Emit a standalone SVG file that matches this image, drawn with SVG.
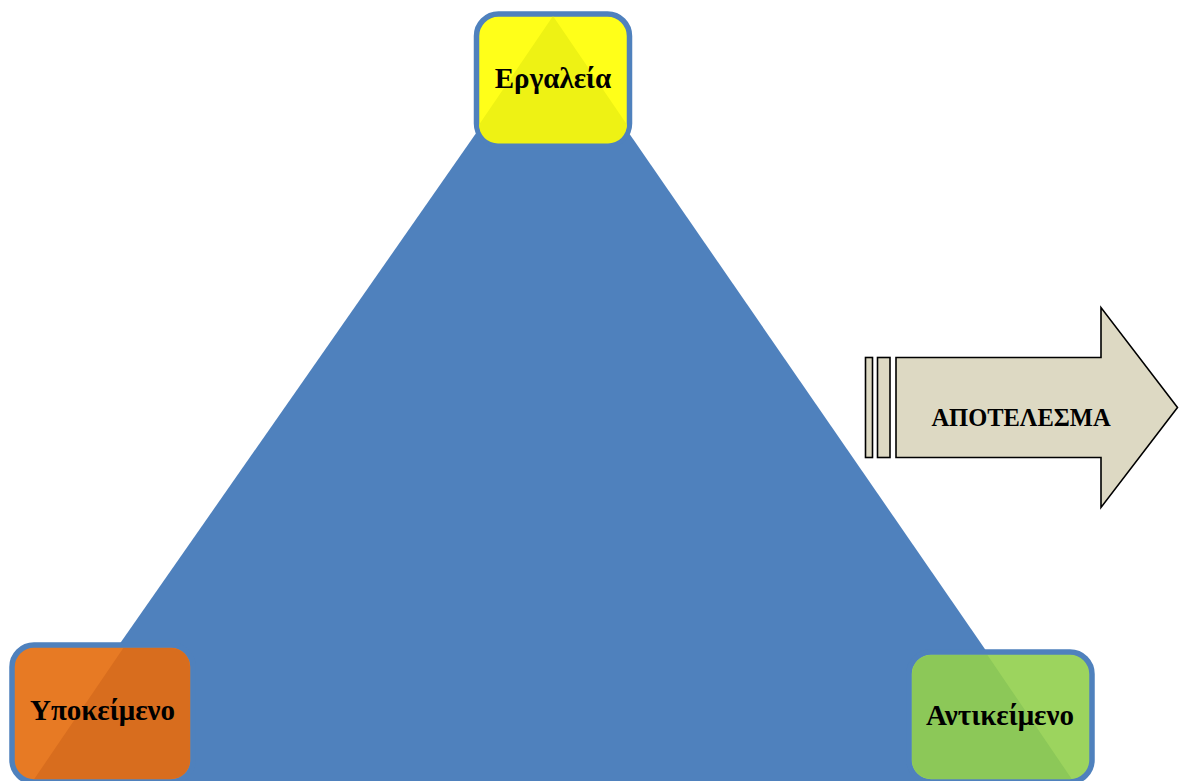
<svg xmlns="http://www.w3.org/2000/svg" width="1179" height="781" viewBox="0 0 1179 781">
  <style>
    .frame { stroke: #4F81BD; stroke-width: 5.5; }
    .label { font-family: "Liberation Serif", "Times New Roman", serif; font-weight: bold; fill: #000; text-anchor: middle; }
    .node-label { font-size: 29px; }
    .arrow-label { font-size: 24.5px; }
    .arrow-part { fill: #DDD9C3; stroke: #000; stroke-width: 1.6; stroke-linejoin: miter; }
  </style>
  <defs>
    <clipPath id="clip-tools"><rect x="479" y="16.5" width="148" height="127" rx="19"/></clipPath>
    <clipPath id="clip-subject"><rect x="15" y="648" width="175" height="131" rx="19"/></clipPath>
    <clipPath id="clip-object"><rect x="912" y="655" width="177" height="124" rx="19"/></clipPath>
  </defs>

  <rect width="1179" height="781" fill="#FFFFFF"/>

  <!-- central triangle -->
  <g id="triangle">
    <polygon points="553,23 24,781 1076,781" fill="#4F81BD"/>
  </g>

  <!-- top corner: tools -->
  <g id="node-tools">
    <rect class="frame" x="476.5" y="14" width="153" height="131.5" rx="22" fill="#FFFF19"/>
    <polygon clip-path="url(#clip-tools)" points="553,16 20,800 1086,800" fill="#EEF214"/>
    <text class="label node-label" x="553" y="88">Εργαλεία</text>
  </g>

  <!-- bottom-left corner: subject -->
  <g id="node-subject">
    <rect class="frame" x="12" y="645" width="181" height="137" rx="22" fill="#E77A24"/>
    <polygon clip-path="url(#clip-subject)" points="553,16 20,800 1086,800" fill="#D86D1E"/>
    <text class="label node-label" x="102.5" y="720">Υποκείμενο</text>
  </g>

  <!-- bottom-right corner: object -->
  <g id="node-object">
    <rect class="frame" x="909" y="652" width="183" height="130" rx="22" fill="#9CD45E"/>
    <polygon clip-path="url(#clip-object)" points="553,16 20,800 1086,800" fill="#8CC858"/>
    <text class="label node-label" x="1000" y="725">Αντικείμενο</text>
  </g>

  <!-- outcome arrow -->
  <g id="node-outcome">
    <rect class="arrow-part" x="865.5" y="357.5" width="7" height="100"/>
    <rect class="arrow-part" x="877.5" y="357.5" width="12.5" height="100"/>
    <polygon class="arrow-part" points="896,357.5 1101,357.5 1101,307.5 1177.5,407.5 1101,507.5 1101,457.5 896,457.5"/>
    <text class="label arrow-label" x="1021" y="426">ΑΠΟΤΕΛΕΣΜΑ</text>
  </g>
</svg>
